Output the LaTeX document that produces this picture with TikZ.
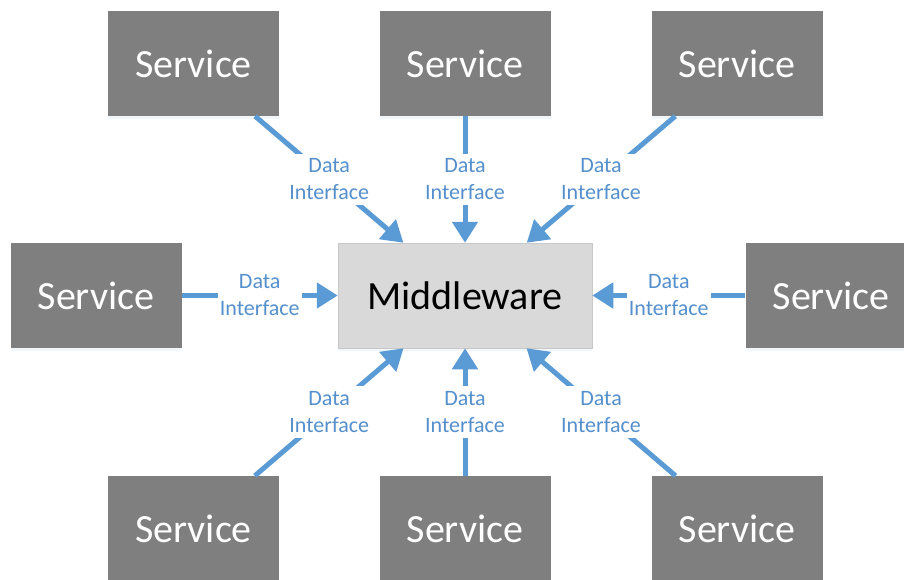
\documentclass[tikz,border=0pt]{standalone}
\usepackage{fontspec}
\setmainfont{Carlito}
\usetikzlibrary{arrows.meta,shadows}
\definecolor{svcgray}{HTML}{7F7F7F}
\definecolor{mwgray}{HTML}{D9D9D9}
\definecolor{mwborder}{HTML}{C8C8C8}
\definecolor{linkblue}{HTML}{5B9BD5}
\definecolor{labelblue}{HTML}{5590CD}

\begin{document}
\begin{tikzpicture}[x=1pt,y=-1pt,
  boxshadow/.style={drop shadow={opacity=0.22, shadow xshift=0pt, shadow yshift=-3pt, fill=linkblue!40!white}},
  service/.style={fill=svcgray, text=white, minimum width=171pt, minimum height=105pt,
    inner sep=0pt, font=\fontsize{40}{48}\selectfont, boxshadow},
  middleware/.style={fill=mwgray, draw=mwborder, line width=0.5pt, text=black,
    minimum width=254pt, minimum height=105pt, inner sep=0pt,
    font=\fontsize{40}{48}\selectfont, boxshadow},
  link/.style={draw=linkblue, line width=5pt, -{Triangle[length=21pt,width=25pt]}},
  dlabel/.style={fill=white, text=labelblue, align=center, inner xsep=2pt, inner ysep=5pt,
    font=\fontsize{22}{27}\selectfont}
]
\clip (0,0) rectangle (904,579);
\useasboundingbox (0,0) rectangle (904,579);

% central hub
\node[middleware] (mw) at (465,295.5) {Middleware};

% surrounding services
\node[service] (s1) at (193.5,63.5) {Service};
\node[service] (s2) at (465,63.5) {Service};
\node[service] (s3) at (737,63.5) {Service};
\node[service] (s4) at (96,295.5) {Service};
\node[service] (s5) at (831,295.5) {Service};
\node[service] (s6) at (193.5,528.5) {Service};
\node[service] (s7) at (465,528.5) {Service};
\node[service] (s8) at (737,528.5) {Service};

% data interfaces into the hub
\foreach \s in {s1,s2,s3,s4,s5,s6,s7,s8}
  \draw[link] (\s) -- node[dlabel] {Data\\Interface} (mw);
\end{tikzpicture}
\end{document}
